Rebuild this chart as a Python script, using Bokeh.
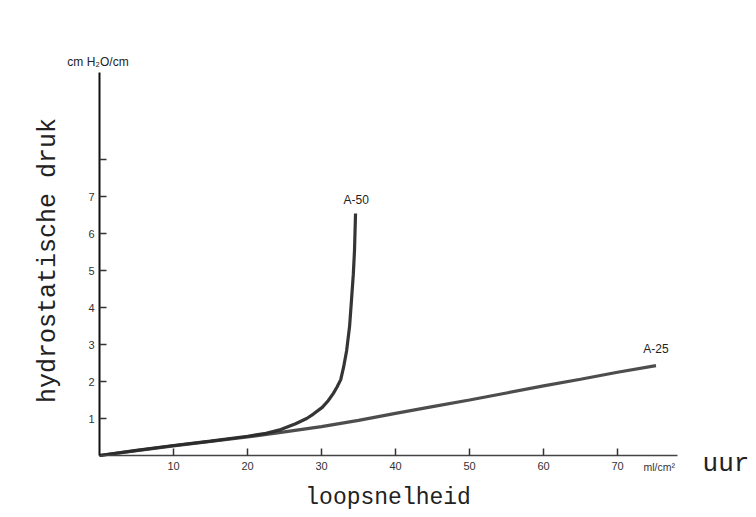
import math
from bokeh.plotting import figure
from bokeh.models import FixedTicker, Label, Range1d, LinearAxis
from bokeh.embed import file_html
from bokeh.resources import INLINE

# Data
a25_x = [0, 5, 10, 15, 20, 25, 30, 35, 40, 45, 50, 55, 60, 65, 70, 75.2]
a25_y = [0.0, 0.13, 0.26, 0.38, 0.5, 0.64, 0.78, 0.95, 1.14, 1.32, 1.5, 1.69, 1.88, 2.06, 2.25, 2.43]
a50_x = [0, 5, 10, 15, 20, 22.5, 24.5, 26.5, 28.0, 28.9, 30.1, 30.9, 31.6, 32.1, 32.6, 33.0, 33.4, 33.8, 34.05, 34.3, 34.46, 34.6]
a50_y = [0.0, 0.14, 0.27, 0.39, 0.52, 0.6, 0.7, 0.86, 1.0, 1.12, 1.3, 1.48, 1.68, 1.85, 2.05, 2.4, 2.84, 3.5, 4.19, 4.9, 5.54, 6.54]
x_ticks = [10, 20, 30, 40, 50, 60, 70]
y_ticks = [1, 2, 3, 4, 5, 6, 7, 8]
y_tick_labels = {8: ""}
series_names = ["A-50", "A-25"]
x_axis_end = 78.1
y_axis_end = 10.35

W, H = 754, 515
X0, SX = 99.0, 7.4     # pixel of x=0, pixels per unit
Y0, SY = 455.0, 37.0   # pixel of y=0, pixels per unit

p = figure(width=W, height=H, output_backend="svg", toolbar_location=None,
           x_range=Range1d(-X0 / SX, (W - X0) / SX),
           y_range=Range1d(-(H - Y0) / SY, Y0 / SY),
           x_axis_location=None, y_axis_location=None,
           min_border_left=0, min_border_right=0, min_border_top=0, min_border_bottom=0)
p.grid.visible = False
p.outline_line_color = None
p.background_fill_color = "white"
p.border_fill_color = "white"

p.line(a25_x, a25_y, line_width=3.2, line_color="#3a3a3a", line_alpha=0.9)
p.line(a50_x, a50_y, line_width=3.2, line_color="#2a2a2a", line_alpha=0.95)

xa = LinearAxis(fixed_location=0, bounds=(0, x_axis_end))
xa.ticker = FixedTicker(ticks=x_ticks)
xa.axis_line_color = "#444444"
xa.axis_line_width = 1.5
xa.major_tick_in = 7
xa.major_tick_out = 0
xa.minor_tick_line_color = None
xa.major_tick_line_color = "#333333"
xa.major_tick_line_width = 1.5
xa.major_label_text_font = "Liberation Sans"
xa.major_label_text_font_size = "11px"
xa.major_label_text_color = "#333333"
xa.major_label_standoff = 6
p.add_layout(xa, "below")

ya = LinearAxis(fixed_location=0, bounds=(0, y_axis_end))
ya.ticker = FixedTicker(ticks=y_ticks)
ya.major_label_overrides = y_tick_labels
ya.axis_line_color = "#111111"
ya.axis_line_width = 2
ya.major_tick_in = 7
ya.major_tick_out = 0
ya.minor_tick_line_color = None
ya.major_tick_line_color = "#333333"
ya.major_tick_line_width = 1.5
ya.major_label_text_font = "Liberation Sans"
ya.major_label_text_font_size = "11px"
ya.major_label_text_color = "#333333"
ya.major_label_standoff = 5
p.add_layout(ya, "left")

def lab(x, y, text, font="Liberation Sans", size="12px", align="center", angle=0.0, color="#222222"):
    p.add_layout(Label(x=x, y=y, text=text, text_align=align, text_baseline="middle", angle=angle,
                       text_font=font, text_font_size=size, text_color=color))

lab(34.7, 6.9, series_names[0])
lab(75.2, 2.88, series_names[1])
lab(-0.2, 10.63, "cm H\u2082O/cm", size="12px")
lab(73.5, -0.3, "ml/cm\u00b2", size="10.5px", align="left", color="#333333")
lab(81.5, -0.22, "uur", font="Liberation Mono", size="26px", align="left")
lab(39.0, -1.15, "loopsnelheid", font="Liberation Mono", size="23px")
lab(-6.9, 5.27, "hydrostatische druk", font="Liberation Mono", size="25px", angle=math.pi / 2)

open("out.html", "w").write(file_html(p, INLINE))
